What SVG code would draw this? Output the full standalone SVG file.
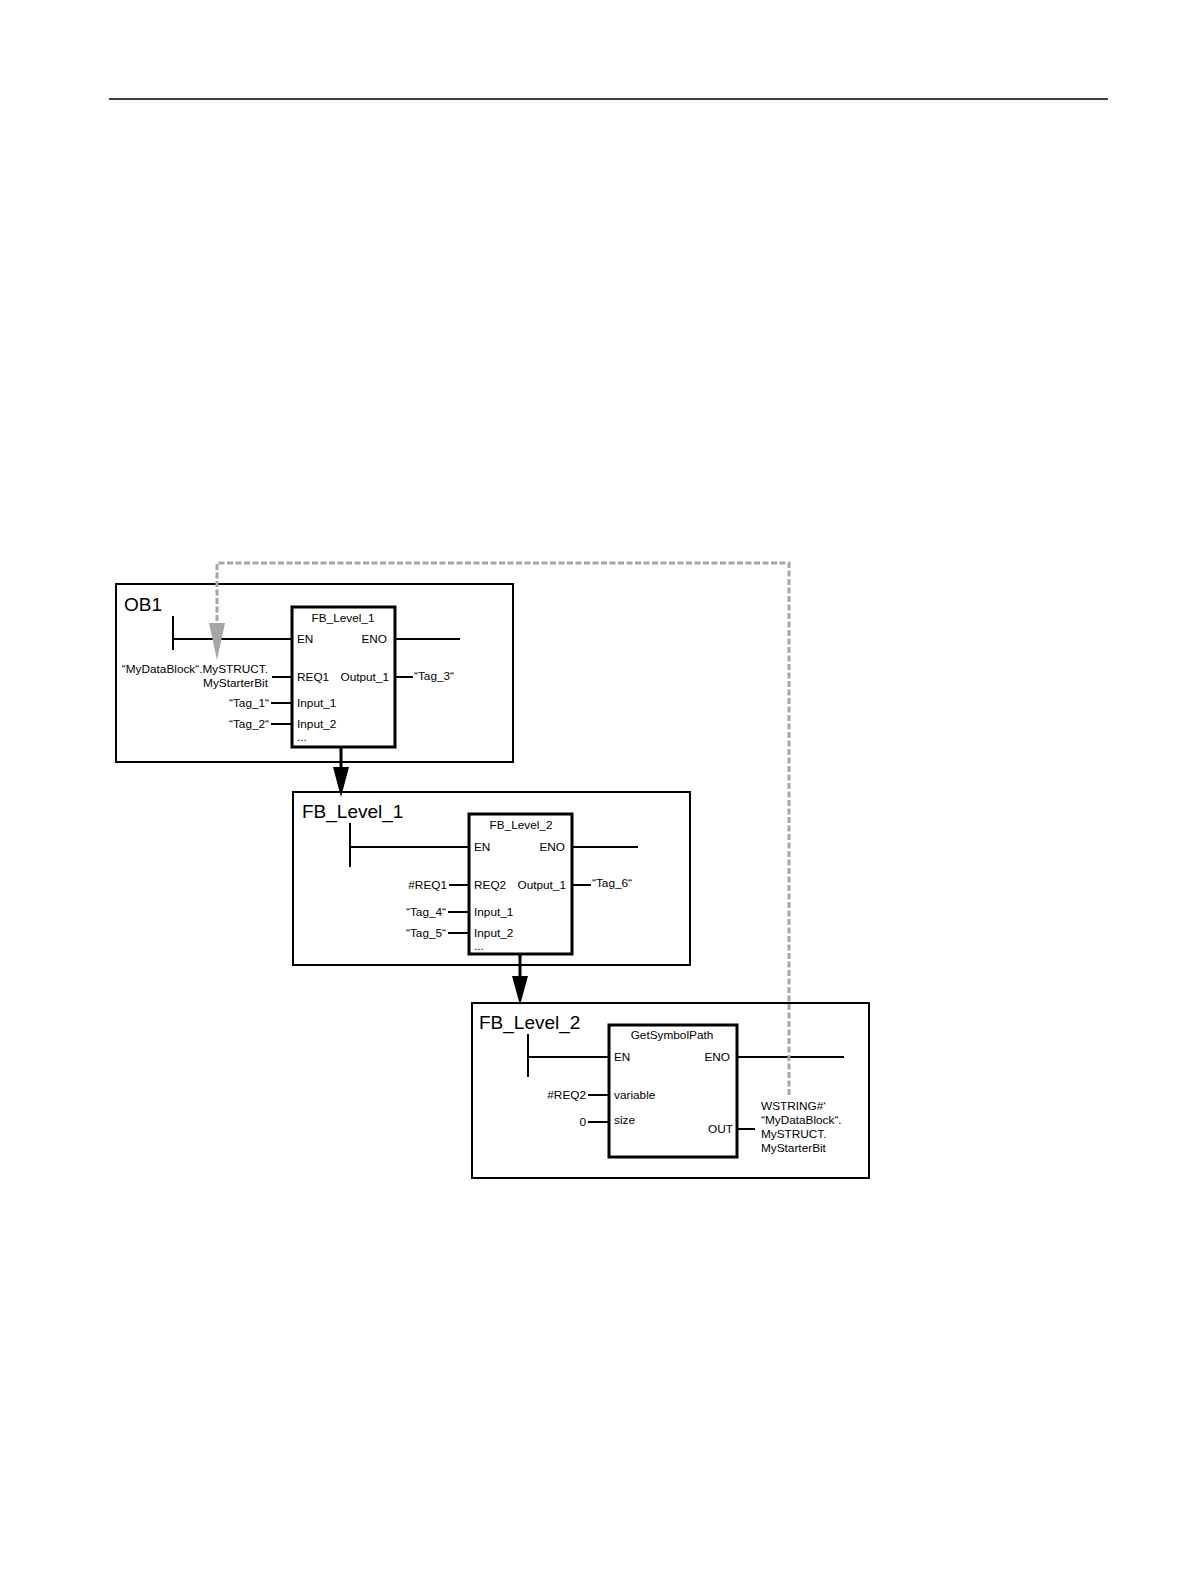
<svg xmlns="http://www.w3.org/2000/svg" width="1191" height="1587" viewBox="0 0 1191 1587">
<style>
  text { font-family: "Liberation Sans", Arial, sans-serif; fill: #000; }
  .pin { font-size: 11.8px; }
  .big { font-size: 19px; }
  .r { text-anchor: end; }
  .c { text-anchor: middle; }
  .frame { fill: #fff; stroke: #000; stroke-width: 2; }
  .blk { fill: #fff; stroke: #000; stroke-width: 3; }
  .ln { stroke: #000; stroke-width: 2; fill: none; }
  .flow { stroke: #000; stroke-width: 3; fill: none; }
  .dash { stroke: #a6a6a6; stroke-width: 3; fill: none; stroke-dasharray: 6 2.5; }
</style>
<rect width="1191" height="1587" fill="#fff"/>
<line x1="109" y1="99" x2="1108" y2="99" stroke="#000" stroke-width="1.5"/>

<g id="ob1">
  <rect class="frame" x="116" y="584" width="397" height="178"/>
  <text class="big" x="124" y="611">OB1</text>
  <line class="ln" x1="173" y1="616" x2="173" y2="650"/>
  <line class="ln" x1="173" y1="639" x2="292" y2="639"/>
  <line class="ln" x1="395" y1="639" x2="460" y2="639"/>
  <line class="ln" x1="272" y1="677" x2="292" y2="677"/>
  <line class="ln" x1="395" y1="677" x2="413" y2="677"/>
  <line class="ln" x1="271" y1="703" x2="292" y2="703"/>
  <line class="ln" x1="271" y1="724" x2="292" y2="724"/>
  <rect class="blk" x="292" y="607" width="103" height="140"/>
  <text class="pin c" x="343" y="622">FB_Level_1</text>
  <text class="pin" x="297" y="643">EN</text>
  <text class="pin r" x="387" y="643">ENO</text>
  <text class="pin" x="297" y="681">REQ1</text>
  <text class="pin r" x="389" y="681">Output_1</text>
  <text class="pin" x="297" y="707">Input_1</text>
  <text class="pin" x="297" y="728">Input_2</text>
  <text class="pin" x="297" y="741">...</text>
  <text class="pin r" x="268" y="673">“MyDataBlock“.MySTRUCT.</text>
  <text class="pin r" x="268" y="687">MyStarterBit</text>
  <text class="pin" x="414" y="680">“Tag_3“</text>
  <text class="pin r" x="269" y="707">“Tag_1“</text>
  <text class="pin r" x="269" y="728">“Tag_2“</text>
</g>

<g id="fb_level_1">
  <rect class="frame" x="293" y="792" width="397" height="173"/>
  <text class="big" x="302" y="818">FB_Level_1</text>
  <line class="ln" x1="350" y1="823" x2="350" y2="867"/>
  <line class="ln" x1="350" y1="847" x2="469" y2="847"/>
  <line class="ln" x1="572" y1="847" x2="638" y2="847"/>
  <line class="ln" x1="449" y1="885" x2="469" y2="885"/>
  <line class="ln" x1="572" y1="885" x2="591" y2="885"/>
  <line class="ln" x1="448" y1="912" x2="469" y2="912"/>
  <line class="ln" x1="448" y1="933" x2="469" y2="933"/>
  <rect class="blk" x="469" y="814" width="103" height="140"/>
  <text class="pin c" x="521" y="829">FB_Level_2</text>
  <text class="pin" x="474" y="851">EN</text>
  <text class="pin r" x="565" y="851">ENO</text>
  <text class="pin" x="474" y="889">REQ2</text>
  <text class="pin r" x="566" y="889">Output_1</text>
  <text class="pin" x="474" y="916">Input_1</text>
  <text class="pin" x="474" y="937">Input_2</text>
  <text class="pin" x="474" y="950">...</text>
  <text class="pin r" x="447" y="889">#REQ1</text>
  <text class="pin" x="592" y="887">“Tag_6“</text>
  <text class="pin r" x="446" y="916">“Tag_4“</text>
  <text class="pin r" x="446" y="937">“Tag_5“</text>
</g>

<g id="fb_level_2">
  <rect class="frame" x="472" y="1003" width="397" height="175"/>
  <text class="big" x="479" y="1029">FB_Level_2</text>
  <line class="ln" x1="528" y1="1034" x2="528" y2="1077"/>
  <line class="ln" x1="528" y1="1057" x2="609" y2="1057"/>
  <line class="ln" x1="737" y1="1057" x2="844" y2="1057"/>
  <line class="ln" x1="588" y1="1095" x2="609" y2="1095"/>
  <line class="ln" x1="588" y1="1122" x2="609" y2="1122"/>
  <line class="ln" x1="737" y1="1129" x2="755" y2="1129"/>
  <rect class="blk" x="609" y="1025" width="128" height="132"/>
  <text class="pin c" x="672" y="1039">GetSymbolPath</text>
  <text class="pin" x="614" y="1061">EN</text>
  <text class="pin r" x="730" y="1061">ENO</text>
  <text class="pin" x="614" y="1099">variable</text>
  <text class="pin" x="614" y="1124">size</text>
  <text class="pin r" x="733" y="1133">OUT</text>
  <text class="pin r" x="586" y="1099">#REQ2</text>
  <text class="pin r" x="586" y="1126">0</text>
  <text class="pin" x="761" y="1110">WSTRING#‘</text>
  <text class="pin" x="761" y="1124">“MyDataBlock“.</text>
  <text class="pin" x="761" y="1138">MySTRUCT.</text>
  <text class="pin" x="761" y="1152">MyStarterBit</text>
</g>

<g id="connectors">
  <line class="flow" x1="341" y1="747" x2="341" y2="770"/>
  <polygon points="333,767 349,767 341,797" fill="#000"/>
  <line class="flow" x1="520" y1="954" x2="520" y2="979"/>
  <polygon points="512,976 528,976 520,1005" fill="#000"/>
  <path class="dash" d="M789,1095 V563 H217 V625"/>
  <polygon points="209,623 225,623 217,660" fill="#a6a6a6"/>
</g>
</svg>
